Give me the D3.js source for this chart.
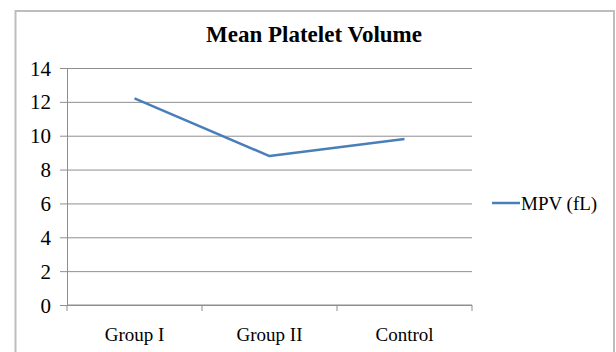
<!DOCTYPE html>
<html>
<head>
<meta charset="utf-8">
<script src="https://cdn.jsdelivr.net/npm/d3@7"></script>
<style>
  html, body { margin: 0; padding: 0; background: #fff; }
  svg { display: block; }
  text { font-family: "Liberation Serif", "Times New Roman", serif; fill: #000; }
</style>
</head>
<body>
<svg id="chart" width="616" height="352"></svg>
<script>
// Mean platelet volume per group
const categories = ["Group I", "Group II", "Control"];
const mpvValues = [12.2, 8.8, 9.8];
const yTicks = [0, 2, 4, 6, 8, 10, 12, 14];
const seriesName = "MPV (fL)";
const chartTitle = "Mean Platelet Volume";

const svg = d3.select("#chart");
const W = 616, H = 352;
const plot = { left: 67, right: 472, top: 68, bottom: 305 };
const gridColor = "#8e8e8e";
const lineColor = "#4a7ebb";

// Outer chart frame
svg.append("rect")
  .attr("x", 15.5).attr("y", 11)
  .attr("width", 598.5).attr("height", H)
  .attr("fill", "#fff")
  .attr("stroke", "#bdbdbd").attr("stroke-width", 2);

// Title
svg.append("text")
  .attr("x", 314).attr("y", 42)
  .attr("text-anchor", "middle")
  .attr("font-size", 23).attr("font-weight", "bold")
  .text(chartTitle);

const x = d3.scaleBand().domain(categories).range([plot.left, plot.right]);
const y = d3.scaleLinear().domain([0, 14]).range([plot.bottom, plot.top]);

// Horizontal gridlines with left tick stubs
const yAxis = d3.axisLeft(y)
  .tickValues(yTicks)
  .tickSize(-(plot.right - plot.left))
  .tickSizeOuter(0)
  .tickPadding(0);
const gy = svg.append("g")
  .attr("transform", `translate(${plot.left},0)`)
  .call(yAxis)
  .attr("font-family", null);
gy.select(".domain").attr("stroke", gridColor).attr("stroke-width", 1);
gy.selectAll(".tick line")
  .attr("x1", -7)
  .attr("stroke", gridColor).attr("stroke-width", 1);
gy.selectAll(".tick text")
  .attr("x", -16)
  .attr("dy", "0.34em")
  .attr("font-size", 21)
  .attr("fill", "#000");

// Category axis with boundary ticks
const gx = svg.append("g")
  .attr("transform", `translate(0,${plot.bottom})`);
gx.append("line")
  .attr("x1", plot.left).attr("x2", plot.right)
  .attr("stroke", gridColor).attr("stroke-width", 1);
const bounds = categories.map(c => x(c)).concat([x(categories[categories.length - 1]) + x.bandwidth()]);
gx.selectAll("line.bt").data(bounds).enter().append("line")
  .attr("class", "bt")
  .attr("x1", d => d).attr("x2", d => d)
  .attr("y1", 0).attr("y2", 6)
  .attr("stroke", gridColor).attr("stroke-width", 1);
gx.selectAll("text").data(categories).enter().append("text")
  .attr("x", d => x(d) + x.bandwidth() / 2)
  .attr("y", 36)
  .attr("text-anchor", "middle")
  .attr("font-size", 19)
  .text(d => d);

// Series line
const line = d3.line()
  .x((d, i) => x(categories[i]) + x.bandwidth() / 2)
  .y(d => y(d));
svg.append("path")
  .datum(mpvValues)
  .attr("d", line)
  .attr("fill", "none")
  .attr("stroke", lineColor)
  .attr("stroke-width", 2.5)
  .attr("stroke-linejoin", "round");

// Legend
const lg = svg.append("g").attr("transform", "translate(492,203)");
lg.append("line")
  .attr("x1", 0).attr("x2", 28)
  .attr("stroke", lineColor).attr("stroke-width", 2.5);
lg.append("text")
  .attr("x", 29).attr("y", 7)
  .attr("font-size", 19)
  .text(seriesName);
</script>
</body>
</html>
